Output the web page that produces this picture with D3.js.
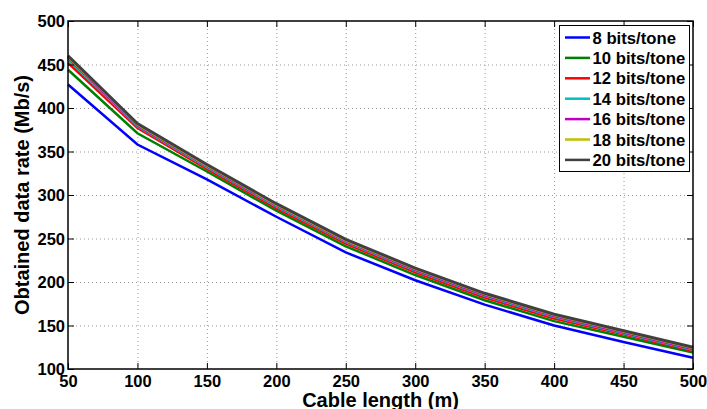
<!DOCTYPE html>
<html><head><meta charset="utf-8">
<script src="https://cdn.jsdelivr.net/npm/d3@7"></script>
<style>
html,body{margin:0;padding:0;background:#fff;}
svg text{font-family:"Liberation Sans",Arial,Helvetica,sans-serif;font-weight:bold;fill:#000;}
</style></head>
<body><svg id="c" width="707" height="409"></svg>
<script>
const cableLength = [50,100,150,200,250,300,350,400,450,500];
const bits8  = [427,358,318,275,234,202,174,150,131,113];
const bits10 = [444,371,327,282,241,208,179,155,137,119];
const bits12 = [452,377,330,285,244,211,182,158,140,121];
const bits14 = [456,379,332,287,246,213,184,160,141,122];
const bits16 = [458,380,333,288,247,214,185,161,142,123];
const bits18 = [459,381,334,289,248,215,186,162,143,124];
const bits20 = [460,382,335,290,249,216,187,163,144,125];
const seriesNames = ["8 bits/tone","10 bits/tone","12 bits/tone","14 bits/tone","16 bits/tone","18 bits/tone","20 bits/tone"];
const seriesValues = [bits8,bits10,bits12,bits14,bits16,bits18,bits20];
const seriesColors = ["#0000ff","#008000","#ff0000","#00bfbf","#bf00bf","#bfbf00","#404040"];
const xTicks = [50,100,150,200,250,300,350,400,450,500];
const yTicks = [100,150,200,250,300,350,400,450,500];

const L=68,R=693,T=21,B=369;
const svg=d3.select("#c");
const x=d3.scaleLinear().domain([50,500]).range([L,R]);
const y=d3.scaleLinear().domain([100,500]).range([B,T]);

// grid
const g=svg.append("g");
g.selectAll("line.gx").data(xTicks.slice(1,-1)).join("line")
 .attr("x1",d=>x(d)+0.5).attr("x2",d=>x(d)+0.5).attr("y1",T).attr("y2",B)
 .attr("stroke","#999").attr("stroke-width",1).attr("stroke-dasharray","1,3");
g.selectAll("line.gy").data(yTicks.slice(1,-1)).join("line")
 .attr("y1",d=>y(d)+0.5).attr("y2",d=>y(d)+0.5).attr("x1",L).attr("x2",R)
 .attr("stroke","#999").attr("stroke-width",1).attr("stroke-dasharray","1,3");

// lines
const line=d3.line().x((d,i)=>x(cableLength[i])).y(d=>y(d));
seriesValues.forEach((vals,k)=>{
  svg.append("path").datum(vals).attr("d",line).attr("fill","none")
   .attr("stroke",seriesColors[k]).attr("stroke-width",k==6?3:2.5);
});

// axes
const fs="16.5px";
const ax=svg.append("g").attr("transform",`translate(0,${B})`)
 .call(d3.axisBottom(x).tickValues(xTicks).tickSizeInner(-6).tickSizeOuter(0).tickPadding(9));
const ay=svg.append("g").attr("transform",`translate(${L},0)`)
 .call(d3.axisLeft(y).tickValues(yTicks).tickSizeInner(-6).tickSizeOuter(0).tickPadding(9));
const at=svg.append("g").attr("transform",`translate(0,${T})`)
 .call(d3.axisTop(x).tickValues(xTicks).tickSizeInner(-6).tickSizeOuter(0).tickFormat(""));
const ar=svg.append("g").attr("transform",`translate(${R},0)`)
 .call(d3.axisRight(y).tickValues(yTicks).tickSizeInner(-6).tickSizeOuter(0).tickFormat(""));
[ax,ay,at,ar].forEach(a=>{
  a.select(".domain").remove();
  a.selectAll("line").attr("stroke","#000").attr("stroke-width",1);
  a.selectAll("text").style("font-size",fs).attr("fill","#000");
});
ax.selectAll("text").attr("dy","0.71em").attr("y",6);
ay.selectAll("text").attr("x",-3).attr("dy","0.36em");
svg.append("rect").attr("x",L).attr("y",T).attr("width",R-L).attr("height",B-T)
 .attr("fill","none").attr("stroke","#000").attr("stroke-width",1.5);

// titles
svg.append("text").attr("x",(L+R)/2).attr("y",407).attr("text-anchor","middle")
 .style("font-size","20px").text("Cable length (m)");
svg.append("text").attr("transform",`translate(29,${(T+B)/2}) rotate(-90)`).attr("text-anchor","middle")
 .style("font-size","20px").text("Obtained data rate (Mb/s)");

// legend
const lg=svg.append("g");
lg.append("rect").attr("x",559.5).attr("y",25.5).attr("width",130).attr("height",146)
 .attr("fill","#fff").attr("stroke","#000").attr("stroke-width",1);
seriesNames.forEach((n,k)=>{
  const cy=37.5+k*20.4;
  lg.append("line").attr("x1",565).attr("x2",590).attr("y1",cy).attr("y2",cy)
   .attr("stroke",seriesColors[k]).attr("stroke-width",2.5);
  lg.append("text").attr("x",592.5).attr("y",cy).attr("dy","0.36em")
   .style("font-size","16.7px").text(n);
});
</script></body></html>
